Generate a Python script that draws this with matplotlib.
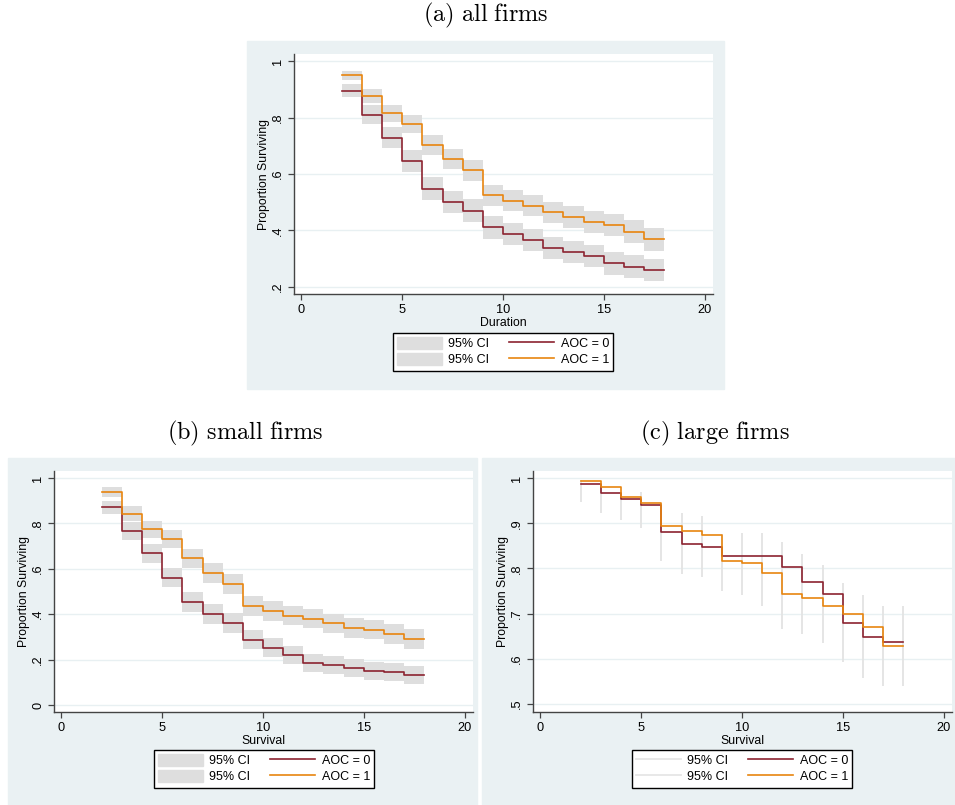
import numpy as np
import matplotlib
matplotlib.use("Agg")
import matplotlib.pyplot as plt
from matplotlib.patches import Rectangle, Patch
from matplotlib.lines import Line2D

plt.rcParams['font.family'] = ['Liberation Sans', 'DejaVu Sans']
plt.rcParams['mathtext.fontset'] = 'cm'

# durations (start of each step), last point closes the final step
durations = [2, 3, 4, 5, 6, 7, 8, 9, 10, 11, 12, 13, 14, 15, 16, 17, 18]

# (a) all firms
all_aoc0 = [0.895, 0.810, 0.729, 0.645, 0.548, 0.501, 0.470, 0.411, 0.388, 0.366,
            0.338, 0.325, 0.310, 0.284, 0.272, 0.260]
all_aoc1 = [0.949, 0.875, 0.815, 0.778, 0.703, 0.652, 0.613, 0.524, 0.506, 0.488,
            0.464, 0.448, 0.429, 0.419, 0.396, 0.369]
all_hw0 = [0.024, 0.034, 0.037, 0.039, 0.040, 0.040, 0.040, 0.040, 0.040, 0.039,
           0.039, 0.039, 0.039, 0.040, 0.040, 0.040]
all_hw1 = [0.017, 0.025, 0.030, 0.032, 0.035, 0.036, 0.037, 0.038, 0.038, 0.038,
           0.038, 0.039, 0.039, 0.039, 0.040, 0.040]

# (b) small firms
small_aoc0 = [0.871, 0.768, 0.668, 0.561, 0.452, 0.400, 0.362, 0.288, 0.253, 0.220,
              0.185, 0.176, 0.162, 0.151, 0.146, 0.133]
small_aoc1 = [0.938, 0.843, 0.774, 0.730, 0.646, 0.582, 0.533, 0.436, 0.414, 0.394,
              0.380, 0.360, 0.340, 0.332, 0.313, 0.291]
small_hw0 = [0.029, 0.039, 0.042, 0.043, 0.044, 0.044, 0.043, 0.042, 0.042, 0.041,
             0.041, 0.040, 0.040, 0.039, 0.039, 0.039]
small_hw1 = [0.023, 0.033, 0.037, 0.040, 0.042, 0.043, 0.043, 0.043, 0.043, 0.043,
             0.043, 0.043, 0.043, 0.043, 0.043, 0.043]

# (c) large firms
large_aoc0 = [0.987, 0.966, 0.953, 0.940, 0.880, 0.854, 0.847, 0.827, 0.827, 0.827,
              0.803, 0.770, 0.744, 0.679, 0.648, 0.637]
large_aoc1 = [0.993, 0.981, 0.957, 0.944, 0.894, 0.882, 0.875, 0.817, 0.811, 0.790,
              0.743, 0.734, 0.717, 0.699, 0.670, 0.629]
# confidence limits drawn as faint vertical spikes at each duration
large_ci_hi = [0.995, 0.981, 0.965, 0.970, 0.944, 0.922, 0.917, 0.876, 0.878, 0.878,
               0.858, 0.832, 0.808, 0.767, 0.742, 0.716, 0.716]
large_ci_lo = [0.948, 0.922, 0.906, 0.889, 0.817, 0.787, 0.780, 0.749, 0.741, 0.716,
               0.665, 0.655, 0.636, 0.592, 0.557, 0.540, 0.540]

c0 = '#8c2330'
c1 = '#e8850f'
ci_col = '#dedede'
bg = '#eaf1f3'

W, H = 955, 805
fig = plt.figure(figsize=(W / 100, H / 100), dpi=100)


def px_axes(l, t, r, b):
    return fig.add_axes([l / W, (H - b) / H, (r - l) / W, (b - t) / H])


def bg_box(l, t, r, b):
    fig.patches.append(Rectangle((l / W, (H - b) / H), (r - l) / W, (b - t) / H,
                                 transform=fig.transFigure, color=bg, zorder=-10))


def close(v):
    return np.append(v, v[-1])


def style(ax, yticks, ylabels, ylim, xlabel):
    ax.set_xlim(-0.37, 20.42)
    ax.set_ylim(*ylim)
    ax.set_xticks([0, 5, 10, 15, 20])
    ax.set_yticks(yticks)
    ax.set_yticklabels(ylabels, rotation=90, va='center')
    ax.grid(axis='y', color='#e8f0f2', lw=1.0)
    ax.set_axisbelow(True)
    for s in ['top', 'right']:
        ax.spines[s].set_visible(False)
    for s in ['left', 'bottom']:
        ax.spines[s].set_color('#444444')
        ax.spines[s].set_linewidth(1.0)
    ax.tick_params(direction='out', length=4, width=0.9, color='#444444',
                   labelsize=9.2, pad=3)
    ax.set_xlabel(xlabel, fontsize=8.8, labelpad=1)
    ax.set_ylabel('Proportion Surviving', fontsize=8.8, labelpad=2)


def band_panel(ax, v0, v1, hw0, hw1):
    v0, v1 = np.array(v0), np.array(v1)
    hw0, hw1 = np.array(hw0), np.array(hw1)
    ax.fill_between(durations, close(v0 - hw0), close(v0 + hw0), step='post',
                    color=ci_col, lw=0, zorder=1)
    ax.fill_between(durations, close(v1 - hw1), close(v1 + hw1), step='post',
                    color=ci_col, lw=0, zorder=1)
    ax.step(durations, close(v0), where='post', color=c0, lw=1.2, zorder=3)
    ax.step(durations, close(v1), where='post', color=c1, lw=1.2, zorder=3)


def add_legend(handles, cx, top):
    labels = ['95% CI', '95% CI', 'AOC = 0', 'AOC = 1']
    leg = fig.legend(handles, labels, ncol=2, loc='upper center',
                     bbox_to_anchor=(cx / W, (H - top) / H), fontsize=9,
                     frameon=True, fancybox=False, framealpha=1,
                     edgecolor='black', handlelength=3.6, handleheight=1.0,
                     handletextpad=0.5, columnspacing=1.6, borderpad=0.35,
                     labelspacing=0.25, borderaxespad=0)
    leg.get_frame().set_linewidth(1.0)


# panel backgrounds
bg_box(247, 41, 724, 389)
bg_box(8, 458, 477, 805)
bg_box(482, 458, 955, 805)

title_kw = dict(ha='center', va='center', fontsize=17.5)
fig.text(486 / W, 1 - 15 / H, r'$\mathrm{(a)\ all\ firms}$', **title_kw)
fig.text(245 / W, 1 - 433 / H, r'$\mathrm{(b)\ small\ firms}$', **title_kw)
fig.text(715 / W, 1 - 433 / H, r'$\mathrm{(c)\ large\ firms}$', **title_kw)

patch_h = [Patch(color=ci_col), Patch(color=ci_col)]
line_h = [Line2D([], [], color=c0, lw=1.2), Line2D([], [], color=c1, lw=1.2)]

# (a)
ax_a = px_axes(294, 54, 713, 294)
band_panel(ax_a, all_aoc0, all_aoc1, all_hw0, all_hw1)
style(ax_a, [0.2, 0.4, 0.6, 0.8, 1.0], ['.2', '.4', '.6', '.8', '1'],
      (0.175, 1.025), 'Duration')
add_legend(patch_h + line_h, 503, 333)

# (b)
ax_b = px_axes(54, 471, 473, 712)
band_panel(ax_b, small_aoc0, small_aoc1, small_hw0, small_hw1)
style(ax_b, [0, 0.2, 0.4, 0.6, 0.8, 1.0], ['0', '.2', '.4', '.6', '.8', '1'],
      (-0.031, 1.031), 'Survival')
add_legend(patch_h + line_h, 264, 750)

# (c)
ax_c = px_axes(533, 471, 952, 712)
ax_c.vlines(durations, large_ci_lo, large_ci_hi, color='#e3e3e3', lw=1.3, zorder=1)
ax_c.step(durations, close(large_aoc0), where='post', color=c0, lw=1.2, zorder=3)
ax_c.step(durations, close(large_aoc1), where='post', color=c1, lw=1.2, zorder=3)
style(ax_c, [0.5, 0.6, 0.7, 0.8, 0.9, 1.0], ['.5', '.6', '.7', '.8', '.9', '1'],
      (0.4823, 1.0155), 'Survival')
ci_lines = [Line2D([], [], color='#e6e6e6', lw=1.3), Line2D([], [], color='#e6e6e6', lw=1.3)]
add_legend(ci_lines + line_h, 742, 750)

fig.savefig('out.png', dpi=100, facecolor='white')
